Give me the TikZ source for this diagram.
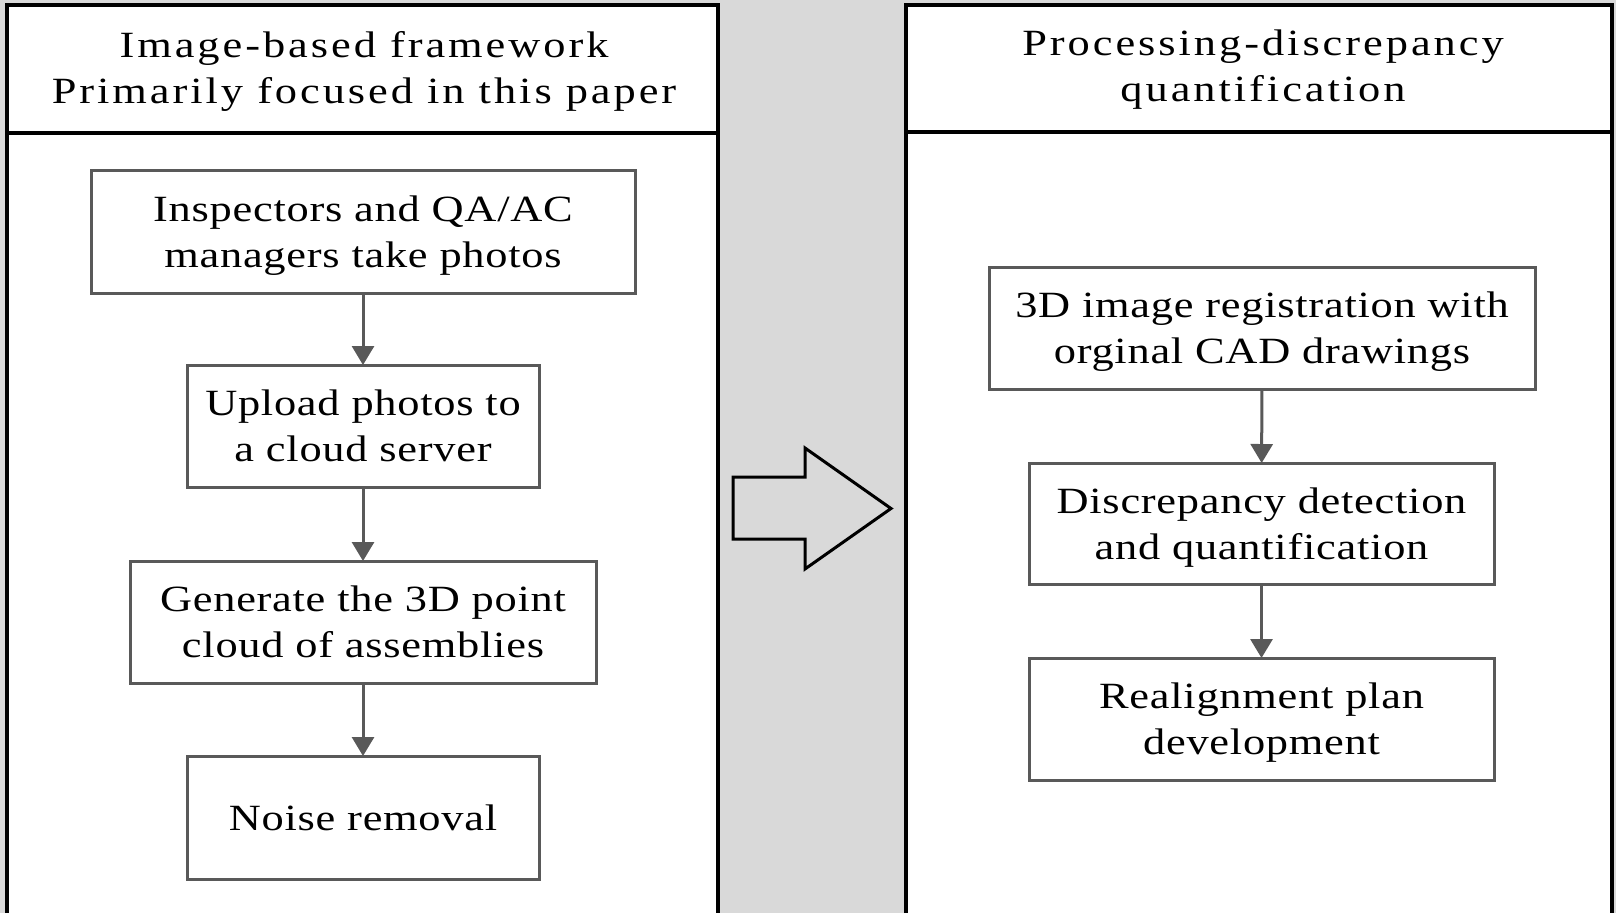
\documentclass[tikz,border=0pt]{standalone}
\usepackage{fontspec}
\setmainfont{Liberation Serif}
\newfontfamily\titlefont[FakeStretch=1.2, LetterSpace=8]{Liberation Serif}
\newfontfamily\boxfont[FakeStretch=1.2, LetterSpace=2]{Liberation Serif}
\usetikzlibrary{arrows.meta}
\definecolor{panelgrey}{HTML}{D9D9D9}
\definecolor{boxgrey}{HTML}{595959}

\begin{document}
\begin{tikzpicture}[x = 1pt, y = -1pt,
  txt/.style = {align = center, font = \titlefont\fontsize{37}{46}\selectfont},
  stepbox/.style = {align = center, font = \boxfont\fontsize{37}{46}\selectfont, text depth = 0pt, draw = boxgrey, line width = 3pt, fill = white, inner sep = 0pt, outer sep = 0pt},
  flow/.style = {draw = boxgrey, line width = 3pt, -{Triangle[width = 22pt, length = 19pt]}},
  frame/.style = {draw = black, line width = 4pt}]

\useasboundingbox [fill = panelgrey] (0,0) rectangle (1616,913);

% left panel
\fill [white] (7,5) rectangle (718,913);
\draw [frame] (7,913) -- (7,5) -- (718,5) -- (718,913);
\draw [frame] (7,133) -- (718,133);
\node [txt] (t1) at (364,71) {Image-based framework\\Primarily focused in this paper};

% right panel
\fill [white] (906,5) rectangle (1612,913);
\draw [frame] (906,913) -- (906,5) -- (1612,5) -- (1612,913);
\draw [frame] (906,132) -- (1612,132);
\node [txt] (t2) at (1263,70) {Processing-discrepancy\\quantification};

\node [stepbox, minimum width = 544, minimum height = 123] (v1) at (363,231.5) {Inspectors and QA/AC\\managers take photos};
\node [stepbox, minimum width = 352, minimum height = 122] (v2) at (363,426) {Upload photos to\\a cloud server};
\node [stepbox, minimum width = 466, minimum height = 122] (v3) at (363,622) {Generate the 3D point\\cloud of assemblies};
\node [stepbox, minimum width = 352, minimum height = 123] (v4) at (363,817.5) {Noise removal};

\node [stepbox, minimum width = 546, minimum height = 122] (w1) at (1262,328) {3D image registration with\\orginal CAD drawings};
\node [stepbox, minimum width = 465, minimum height = 121] (w2) at (1261.5,523.5) {Discrepancy detection\\and quantification};
\node [stepbox, minimum width = 465, minimum height = 122] (w3) at (1261.5,719) {Realignment plan\\development};

\draw [flow] (v1) -- (v2);
\draw [flow] (v2) -- (v3);
\draw [flow] (v3) -- (v4);
\draw [flow] (w1) -- (w2);
\draw [flow] (w2) -- (w3);

% block arrow between panels
\draw [line width = 3pt, line join = miter] (733,477) -- (805,477) -- (805,448) -- (891,508.5) -- (805,569) -- (805,539) -- (733,539) -- cycle;
\end{tikzpicture}
\end{document}
